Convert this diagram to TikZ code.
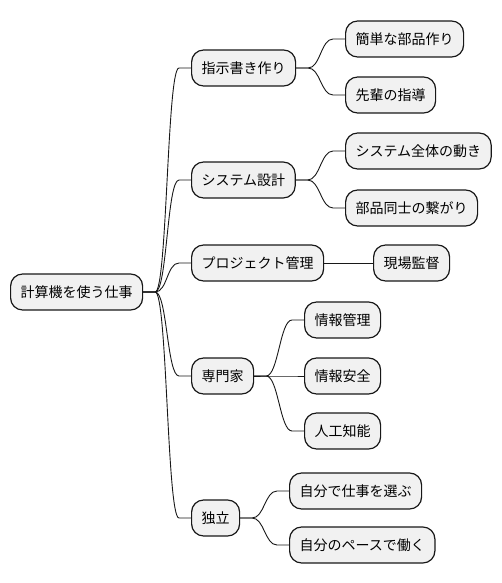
\documentclass[tikz,border=0pt]{standalone}
\usepackage{fontspec}
\setmainfont{Noto Sans CJK JP}
\definecolor{boxfill}{HTML}{F1F1F1}
\definecolor{boxline}{HTML}{181818}
\begin{document}
\begin{tikzpicture}[x=1pt, y=-1pt,
    box/.style ={draw=boxline, fill=boxfill, line width=1.2pt, rounded corners=12pt,
                 minimum height=36pt, inner xsep=10pt, anchor=west,
                 font=\fontsize{14}{16}\selectfont},
    link/.style={draw=boxline, line width=0.9pt},
  ]
  \useasboundingbox (0,0) rectangle (502,583);

  % root and first level
  \node[box] (root) at (10,292) {計算機を使う仕事};
  \node[box] (inst) at (191,68)  {指示書き作り};
  \node[box] (sys)  at (191,180) {システム設計};
  \node[box] (proj) at (191,263) {プロジェクト管理};
  \node[box] (pro)  at (191,376) {専門家};
  \node[box] (ind)  at (191,518) {独立};

  % second level
  \node[box] (parts) at (345,39)  {簡単な部品作り};
  \node[box] (guide) at (345,95)  {先輩の指導};
  \node[box] (whole) at (345,151) {システム全体の動き};
  \node[box] (conn)  at (345,208) {部品同士の繋がり};
  \node[box] (site)  at (373,263) {現場監督};
  \node[box] (info)  at (304,320) {情報管理};
  \node[box] (sec)   at (304,376) {情報安全};
  \node[box] (ai)    at (304,431) {人工知能};
  \node[box] (self)  at (289,491) {自分で仕事を選ぶ};
  \node[box] (pace)  at (289,545) {自分のペースで働く};

  % connectors
  \foreach \p/\c in {root/inst, root/sys, root/proj, root/pro, root/ind,
                     inst/parts, inst/guide, sys/whole, sys/conn,
                     pro/info, pro/sec, pro/ai, ind/self, ind/pace}{
    \draw[link] (\p.east) -- ([xshift=12pt]\p.east)
      .. controls ([xshift=24pt]\p.east) and ([xshift=-24pt]\c.west)
      .. ([xshift=-12pt]\c.west) -- (\c.west);
  }
  \draw[link] (proj.east) -- (site.west);
\end{tikzpicture}
\end{document}
